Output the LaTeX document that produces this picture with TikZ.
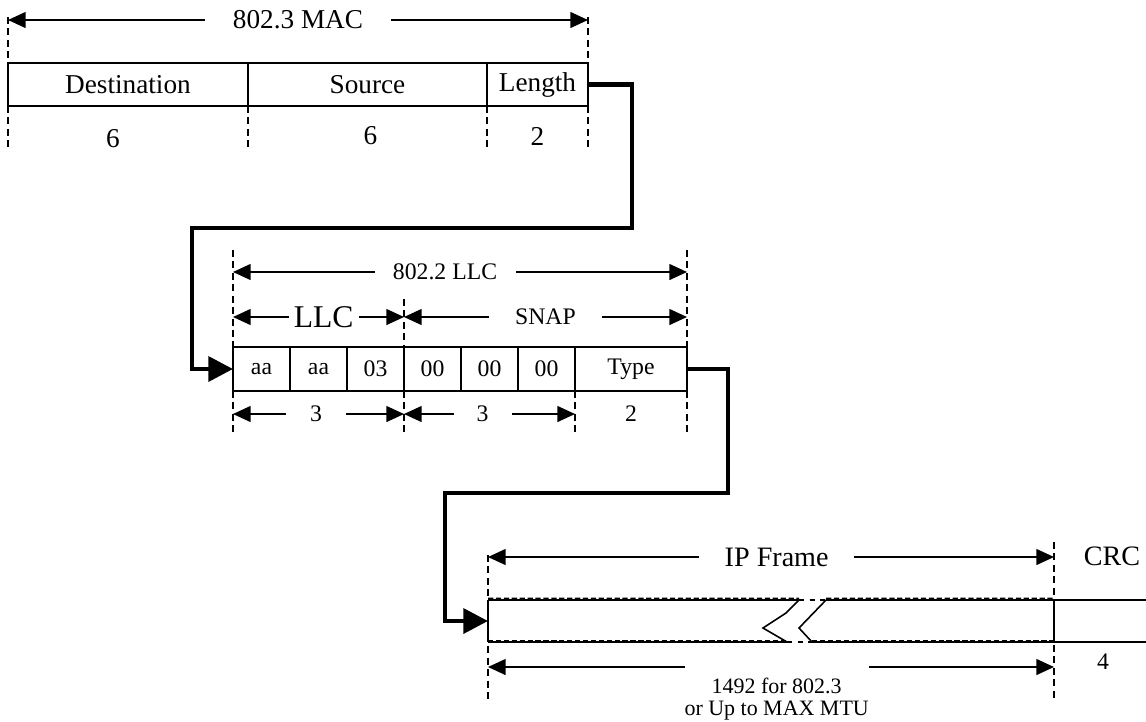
\documentclass[tikz,border=0pt]{standalone}
\usepackage{fontspec}
\setmainfont{Liberation Serif}
\usetikzlibrary{arrows.meta, positioning, calc}
\newcommand{\macfont}{\fontsize{15.5}{18}\selectfont}
\newcommand{\llcfont}{\fontsize{13.5}{16}\selectfont}
\newcommand{\hdrfont}{\fontsize{18}{20}\selectfont}
\newcommand{\ipfont}{\fontsize{16}{19}\selectfont}
\newcommand{\mtufont}{\fontsize{12.5}{12.6}\selectfont}
\tikzset{
    % one field of the MAC header, an open box with its name
    field/.style={draw, line width=0.9pt, outer sep=0pt, inner sep=0pt,
                  minimum height=0.86cm, font=\macfont},
    % one octet of the LLC/SNAP header
    octet/.style={field, minimum width=1.14cm, minimum height=0.88cm, font=\llcfont},
    % dashed guide lines that mark the field borders
    guide/.style={line width=0.8pt, dash pattern=on 4pt off 2.5pt},
    % dimension arrows between two guides
    dim/.style={{Triangle[length=10pt, width=9pt]}-{Triangle[length=10pt, width=9pt]},
                line width=0.9pt},
    % text that sits on a dimension arrow and blanks part of it
    dimtext/.style={fill=white, inner xsep=0pt, inner ysep=1pt, font=\llcfont},
    % thick connectors from one frame into the next
    link/.style={-{Triangle[length=14pt, width=14pt]}, line width=2.6pt},
    % outline of the IP frame
    frameline/.style={line width=0.9pt},
}

\begin{document}
\begin{tikzpicture}
    \useasboundingbox (0,0) rectangle (22.92,-14.42);

    % ===== 802.3 MAC header =====
    \node[field, minimum width=4.8cm] (dst) at (2.56,-1.69) {Destination};
    \node[field, minimum width=4.78cm, right=0pt of dst] (src) {Source};
    \node[field, minimum width=2.02cm, right=0pt of src] (len) {Length};

    % guides above and below
    \draw[guide] ([yshift=0.92cm]dst.north west) -- (dst.north west);
    \draw[guide] ([yshift=0.92cm]len.north east) -- (len.north east);
    \draw[guide] (dst.south west) -- ++(0,-0.82);
    \draw[guide] (src.south west) -- ++(0,-0.82);
    \draw[guide] (len.south west) -- ++(0,-0.82);
    \draw[guide] (len.south east) -- ++(0,-0.82);

    \draw[dim] ([yshift=0.86cm]dst.north west) -- ([yshift=0.86cm]len.north east)
        node[dimtext, midway, minimum width=3.72cm, font=\macfont] {802.3 MAC};

    % field sizes
    \node[font=\macfont] (ndst) at ([xshift=-0.3cm, yshift=-0.66cm]dst.south) {6};
    \node[font=\macfont] (nsrc) at ([xshift=0.06cm, yshift=-0.6cm]src.south) {6};
    \node[font=\macfont] (nlen) at ([yshift=-0.6cm]len.south) {2};

    % ===== 802.2 LLC / SNAP header =====
    \node[octet] (aa1) at (5.23,-7.38) {aa};
    \node[octet, right=0pt of aa1] (aa2) {aa};
    \node[octet, right=0pt of aa2] (ctl) {03};
    \node[octet, right=0pt of ctl] (oui1) {00};
    \node[octet, right=0pt of oui1] (oui2) {00};
    \node[octet, right=0pt of oui2] (oui3) {00};
    \node[octet, minimum width=2.24cm, right=0pt of oui3] (type) {Type};

    \draw[guide] ([yshift=1.94cm]aa1.north west) -- (aa1.north west);
    \draw[guide] ([yshift=1.94cm]type.north east) -- (type.north east);
    \draw[guide] ([yshift=0.96cm]oui1.north west) -- (oui1.north west);
    \draw[guide] (aa1.south west) -- ++(0,-0.82);
    \draw[guide] (oui1.south west) -- ++(0,-0.82);
    \draw[guide] (type.south west) -- ++(0,-0.82);
    \draw[guide] (type.south east) -- ++(0,-0.82);

    \draw[dim] ([yshift=1.5cm]aa1.north west) -- ([yshift=1.5cm]type.north east)
        node[dimtext, pos=0.467, minimum width=2.82cm] {802.2 LLC};
    \draw[dim] ([yshift=0.6cm]aa1.north west) -- ([yshift=0.6cm]ctl.north east)
        node[dimtext, pos=0.53, minimum width=1.4cm, font=\hdrfont] {LLC};
    \draw[dim] ([yshift=0.6cm]oui1.north west) -- ([yshift=0.6cm]type.north east)
        node[dimtext, midway, minimum width=2.26cm] {SNAP};
    \draw[dim] ([yshift=-0.46cm]aa1.south west) -- ([yshift=-0.46cm]ctl.south east)
        node[dimtext, pos=0.485, minimum width=1.2cm] {3};
    \draw[dim] ([yshift=-0.46cm]oui1.south west) -- ([yshift=-0.46cm]oui3.south east)
        node[dimtext, pos=0.46, minimum width=1.16cm] {3};
    \node[font=\llcfont] (ntype) at ([yshift=-0.46cm]type.south) {2};

    % MAC -> LLC
    \coordinate (bendA) at (12.64,-4.56);
    \coordinate (bendB) at (3.84,-4.56);
    \draw[link] (len.east) -| (bendA) -- (bendB) |- (aa1.west);

    % ===== IP frame and CRC =====
    \node[minimum width=11.32cm, minimum height=0.84cm, inner sep=0pt, outer sep=0pt]
        (ipf) at (15.42,-12.42) {};

    % break in the middle of the frame
    \coordinate (brkTL) at (15.98,-12.0);
    \coordinate (brkTR) at (16.52,-12.0);
    \coordinate (brkBL) at (15.74,-12.84);
    \coordinate (brkBR) at (16.24,-12.84);
    \draw[frameline] (brkTL) -- (15.72,-12.26) -- (15.26,-12.56) -- (brkBL);
    \draw[frameline] (brkTR) -- (15.98,-12.56) -- (brkBR);
    \draw[frameline, dash pattern=on 3pt off 3pt] (brkTL) -- (brkTR);
    \draw[frameline, dash pattern=on 3pt off 3pt] (brkBL) -- (brkBR);

    \draw[frameline] (ipf.north west) -- (brkTL) (brkTR) -- (ipf.north east) -- ++(1.84,0);
    \draw[frameline] (ipf.south west) -- (brkBL) (brkBR) -- (ipf.south east) -- ++(1.84,0);
    \draw[frameline, line width=0.6pt, dash pattern=on 3pt off 1.5pt]
        ([yshift=0.035cm]ipf.north west) -- ([yshift=0.035cm]brkTL)
        ([yshift=0.035cm]brkTR) -- ([yshift=0.035cm]ipf.north east);
    \draw[frameline, line width=0.6pt, dash pattern=on 3pt off 1.5pt]
        ([yshift=0.035cm]ipf.south west) -- ([yshift=0.035cm]brkBL)
        ([yshift=0.035cm]brkBR) -- ([yshift=0.035cm]ipf.south east);
    \draw[frameline] (ipf.north west) -- (ipf.south west);
    \draw[frameline] (ipf.north east) -- (ipf.south east);

    \draw[guide] ([yshift=0.9cm]ipf.north west) -- ([yshift=-1.16cm]ipf.south west);
    \draw[guide] ([yshift=1.16cm]ipf.north east) -- ([yshift=-1.12cm]ipf.south east);

    \draw[dim] ([yshift=0.86cm]ipf.north west) -- ([yshift=0.86cm]ipf.north east)
        node[dimtext, pos=0.51, minimum width=3.1cm, font=\ipfont] {IP Frame};
    \draw[dim] ([yshift=-0.5cm]ipf.south west) -- ([yshift=-0.5cm]ipf.south east)
        node[dimtext, pos=0.51, anchor=north, yshift=0.08cm, inner ysep=0.28cm,
             minimum width=3.62cm, align=center, font=\mtufont]
        {1492 for 802.3\\or Up to MAX MTU};

    \node[font=\ipfont] (crc) at ([xshift=1.16cm, yshift=0.88cm]ipf.north east) {CRC};
    \node[font=\llcfont] (ncrc) at ([xshift=0.98cm, yshift=-0.4cm]ipf.south east) {4};

    % LLC -> IP
    \coordinate (bendC) at (14.56,-9.86);
    \coordinate (bendD) at (8.9,-9.86);
    \draw[link] (type.east) -| (bendC) -- (bendD) |- (ipf.west);

\end{tikzpicture}
\end{document}
